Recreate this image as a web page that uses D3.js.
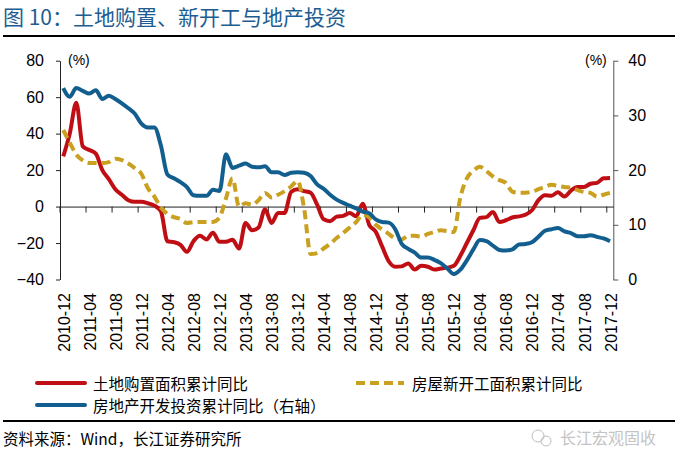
<!DOCTYPE html>
<html><head><meta charset="utf-8">
<script src="https://cdn.jsdelivr.net/npm/d3@7"></script>
<style>body{margin:0;background:#fff} svg{display:block}</style>
</head><body>
<script>
const months = [
"2010-12",
"2011-01","2011-02","2011-03","2011-04","2011-05","2011-06","2011-07","2011-08","2011-09","2011-10","2011-11","2011-12",
"2012-01","2012-02","2012-03","2012-04","2012-05","2012-06","2012-07","2012-08","2012-09","2012-10","2012-11","2012-12",
"2013-01","2013-02","2013-03","2013-04","2013-05","2013-06","2013-07","2013-08","2013-09","2013-10","2013-11","2013-12",
"2014-01","2014-02","2014-03","2014-04","2014-05","2014-06","2014-07","2014-08","2014-09","2014-10","2014-11","2014-12",
"2015-01","2015-02","2015-03","2015-04","2015-05","2015-06","2015-07","2015-08","2015-09","2015-10","2015-11","2015-12",
"2016-01","2016-02","2016-03","2016-04","2016-05","2016-06","2016-07","2016-08","2016-09","2016-10","2016-11","2016-12",
"2017-01","2017-02","2017-03","2017-04","2017-05","2017-06","2017-07","2017-08","2017-09","2017-10","2017-11","2017-12"];

const tickLabels = ["2010-12","2011-04","2011-08","2011-12","2012-04","2012-08","2012-12","2013-04","2013-08","2013-12",
"2014-04","2014-08","2014-12","2015-04","2015-08","2015-12","2016-04","2016-08","2016-12","2017-04","2017-08","2017-12"];

// 土地购置面积累计同比 (left axis, %)
const landArea = [27.5,
40,57,33,31,29,20,15,9.5,6.5,3.5,2.6,2.6,
1.8,0.5,-2.5,-19,-19.5,-21,-24.8,-19,-16,-18,-14.4,-19.3,
-19.3,-18.2,-23,-9,-13,-11.5,-1.5,-9,-3.5,-3.5,8,9.5,
8.5,7.6,1,-7,-8,-5.5,-5.1,-3.5,-5.3,1.5,-10,-13.8,
-22,-30,-33,-32.8,-31.2,-34.5,-32.5,-33,-34.5,-34,-33.5,-32.5,
-27,-20,-13,-6.2,-5.8,-3,-8.5,-7.5,-6,-5.4,-4.5,-2,
3.5,6.2,6,7.8,5.5,8.8,10.8,10.8,12.5,13,15.5,15.7];

// 房屋新开工面积累计同比 (left axis, %)
const newStarts = [42,
35,28.5,25.3,23.9,23.9,23.9,24.4,26.2,25.5,23.6,21,18,
10,5.5,-0.5,-4,-5.8,-6.8,-9,-8.5,-8.4,-8.4,-8.4,-6,
4.5,15.5,0,1.8,1,3.5,7.5,5,6.5,8.5,11,14,
-1,-26,-25.5,-23,-20.5,-17.2,-14.5,-11.5,-8.5,-4.5,-6,-10,
-12.5,-15,-17.5,-18,-16,-16,-16.5,-15,-14,-13,-13.5,-14,
5,15.5,19.5,21.8,19.5,16.5,14.5,13,8.1,7.6,7.6,8.1,
9.5,10.8,11.9,11.3,10.7,10.2,9,8,7.5,5.5,6.5,7.5];

// 房地产开发投资累计同比 (right axis, %)
const investment = [35,
33.4,35,34.5,34,34.6,33,33.6,33,32.2,31.3,30.3,28.5,
27.8,27.8,24.5,19.2,18.5,17.8,16.9,15.4,15.3,15.3,16.4,16.2,
22.9,20.4,20.8,21.2,20.6,20.5,20.7,19.6,19.6,19.1,19.5,19.6,
19.5,18.9,17.4,16.6,15.5,14.6,14,13.5,13,12.4,12.1,11,
10.5,10.4,9.2,6.5,5.6,4.9,4,4,3.6,3,2,1,
1.8,3.5,5.5,7.2,7,6.2,5.4,5.3,5.5,6.4,6.5,6.8,
7.8,8.9,9.2,9.4,8.8,8.5,7.9,7.9,8.1,7.8,7.5,7];

const leftTicks = [80,60,40,20,0,-20,-40];
const rightTicks = [40,30,20,10,0];
const seriesNames = ["土地购置面积累计同比","房屋新开工面积累计同比","房地产开发投资累计同比（右轴）"];
const colors = {land:"#c00f14", starts:"#c9a020", invest:"#125f8f"};

const W=675,H=456;
const FONT = "'Liberation Sans', Arial, 'Noto Sans CJK SC', sans-serif";
const CJK = "'Noto Sans CJK SC', 'Liberation Sans', sans-serif";
const svg=d3.select("body").append("svg").attr("width",W).attr("height",H)
  .style("font-family",FONT);

const L=60, R=613.3, T=60.7, B=279.5;
const x=d3.scaleBand().domain(months).range([L,R]);
const cx = d => x(d)+x.bandwidth()/2;
const yL=d3.scaleLinear().domain([-40,80]).range([B,T]);
const yR=d3.scaleLinear().domain([0,40]).range([B,T]);

// Title
svg.append("text").attr("x",3).attr("y",25).attr("fill","#1d5d92")
  .style("font-family",CJK).style("font-size","21px").text("图 10：土地购置、新开工与地产投资");
svg.append("line").attr("x1",3).attr("x2",675).attr("y1",36).attr("y2",36)
  .attr("stroke","#000").attr("stroke-width",2);

// Left axis
const gL=svg.append("g").attr("transform",`translate(${L},0)`)
  .call(d3.axisLeft(yL).tickValues(leftTicks).tickSize(4).tickSizeOuter(0).tickPadding(12).tickFormat(d3.format("d")));
gL.selectAll("text").style("font-size","16px").style("font-family",FONT).attr("fill","#000");
gL.selectAll("line,path").attr("stroke","#222");

// Right axis
const gR=svg.append("g").attr("transform",`translate(${R},0)`)
  .call(d3.axisRight(yR).tickValues(rightTicks).tickSize(5).tickSizeOuter(0).tickPadding(10).tickFormat(d3.format("d")));
gR.selectAll("text").style("font-size","16px").style("font-family",FONT).attr("fill","#000");
gR.selectAll("line,path").attr("stroke","#555");

// unit labels
svg.append("text").attr("x",68).attr("y",65).style("font-size","14px").text("(%)");
svg.append("text").attr("x",585).attr("y",65).style("font-size","14px").text("(%)");

// X axis at zero
const y0=yL(0);
const gX=svg.append("g").attr("transform",`translate(0,${y0})`)
  .call(d3.axisBottom(x).tickValues(tickLabels).tickSize(6).tickSizeOuter(0).tickFormat(""));
gX.selectAll(".tick").attr("transform",d=>`translate(${x(d)},0)`);
gX.selectAll("line,path").attr("stroke","#222");

// X labels (rotated) at bottom of plot
svg.append("g").selectAll("text").data(tickLabels).join("text")
  .attr("transform",d=>`translate(${cx(d)+1},293) rotate(-90)`)
  .attr("text-anchor","end").attr("dominant-baseline","central")
  .style("font-size","16px").text(d=>d);

// Lines
const lineL=d3.line().x((d,i)=>cx(months[i])).y(d=>yL(d)).curve(d3.curveMonotoneX);
const lineR=d3.line().x((d,i)=>cx(months[i])).y(d=>yR(d)).curve(d3.curveMonotoneX);
svg.append("path").attr("d",lineL(landArea)).attr("fill","none").attr("stroke",colors.land).attr("stroke-width",4).attr("stroke-linejoin","round");
svg.append("path").attr("d",lineL(newStarts)).attr("fill","none").attr("stroke",colors.starts).attr("stroke-width",4).attr("stroke-dasharray","9,5");
svg.append("path").attr("d",lineR(investment)).attr("fill","none").attr("stroke",colors.invest).attr("stroke-width",4).attr("stroke-linejoin","round");

// Legend
const leg=[
 {name:seriesNames[0],c:colors.land,dash:null,x:37,y:383},
 {name:seriesNames[1],c:colors.starts,dash:"9,5",x:356,y:383},
 {name:seriesNames[2],c:colors.invest,dash:null,x:37,y:405}];
leg.forEach(l=>{
  svg.append("line").attr("x1",l.x).attr("x2",l.x+48).attr("y1",l.y).attr("y2",l.y)
    .attr("stroke",l.c).attr("stroke-width",4).attr("stroke-dasharray",l.dash).attr("stroke-linecap",l.dash?"butt":"round");
  svg.append("text").attr("x",l.x+56).attr("y",l.y).attr("dominant-baseline","central")
    .style("font-family",CJK).style("font-size","15.5px").text(l.name);
});
svg.append("line").attr("x1",3).attr("x2",675).attr("y1",421).attr("y2",421)
  .attr("stroke","#000").attr("stroke-width",2);

// Footer
svg.append("text").attr("x",3).attr("y",438).attr("dominant-baseline","central")
  .style("font-family",CJK).style("font-size","15.5px").text("资料来源：Wind，长江证券研究所");
// watermark
const wm=svg.append("g").attr("fill","none").attr("stroke","#bdbdbd").attr("stroke-width",1);
wm.append("circle").attr("cx",538).attr("cy",436).attr("r",6);
wm.append("circle").attr("cx",546).attr("cy",441).attr("r",5);
svg.append("text").attr("x",560).attr("y",437).attr("dominant-baseline","central")
  .style("font-family",CJK).style("font-size","16px").attr("fill","#c4c4c4").text("长江宏观固收");
</script>
</body></html>
